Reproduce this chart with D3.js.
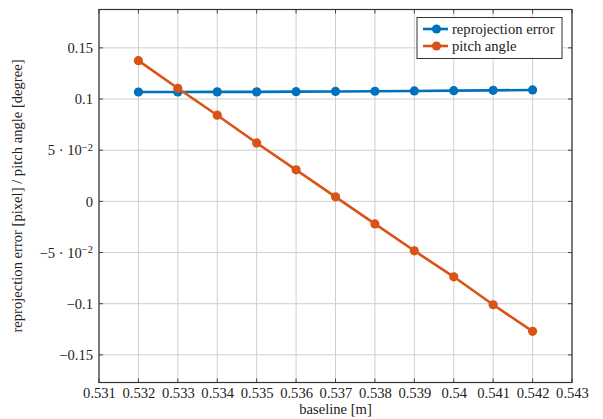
<!DOCTYPE html>
<html>
<head>
<meta charset="utf-8">
<script src="https://cdn.jsdelivr.net/npm/d3@7"></script>
<style>
  body { margin: 0; background: #fff; }
</style>
</head>
<body>
<div id="chart"></div>
<script>
// data
var baselines = [0.532, 0.533, 0.534, 0.535, 0.536, 0.537, 0.538, 0.539, 0.540, 0.541, 0.542];
var reprojError = [0.1069, 0.1069, 0.1070, 0.1070, 0.1072, 0.1074, 0.1076, 0.1079, 0.1082, 0.1085, 0.1089];
var pitchAngle = [0.1375, 0.1105, 0.0842, 0.0571, 0.0308, 0.0044, -0.0220, -0.0483, -0.0737, -0.1010, -0.1270];
var xTicks = [0.531, 0.532, 0.533, 0.534, 0.535, 0.536, 0.537, 0.538, 0.539, 0.540, 0.541, 0.542, 0.543];
var xTickLabels = ["0.531", "0.532", "0.533", "0.534", "0.535", "0.536", "0.537", "0.538", "0.539", "0.54", "0.541", "0.542", "0.543"];
var yTicks = [-0.15, -0.1, -0.05, 0, 0.05, 0.1, 0.15];
var seriesNames = ["reprojection error", "pitch angle"];
var seriesColors = ["#0072BD", "#D95319"];

var FONT = "'Liberation Serif', 'Times New Roman', Times, serif";
var FS = "14.6px";

var W = 603, H = 419;
var M = { left: 99, right: 31, top: 9.5, bottom: 36.5 };

var svg = d3.select("#chart").append("svg").attr("width", W).attr("height", H)
  .attr("font-family", FONT);

var x = d3.scaleLinear().domain([0.531, 0.543]).range([M.left, W - M.right]);
var y = d3.scaleLinear().domain([-0.177, 0.1875]).range([H - M.bottom, M.top]);

// grid
var grid = svg.append("g");
xTicks.forEach(function(t) {
  grid.append("line").attr("x1", x(t)).attr("x2", x(t))
    .attr("y1", M.top).attr("y2", H - M.bottom)
    .attr("stroke", "#cfcfcf").attr("stroke-width", 1);
});
yTicks.forEach(function(t) {
  grid.append("line").attr("x1", M.left).attr("x2", W - M.right)
    .attr("y1", y(t)).attr("y2", y(t))
    .attr("stroke", "#cfcfcf").attr("stroke-width", 1);
});

// axes (labels only, ticks drawn as inner marks)
var xAxis = d3.axisBottom(x).tickValues(xTicks).tickSize(0).tickPadding(5)
  .tickFormat(function(d, i) { return xTickLabels[i]; });
var gX = svg.append("g").attr("transform", "translate(0," + (H - M.bottom) + ")").call(xAxis)
  .attr("font-family", FONT).attr("font-size", FS);
gX.select(".domain").remove();
gX.selectAll("text").attr("fill", "#222");

var yAxis = d3.axisLeft(y).tickValues(yTicks).tickSize(0).tickPadding(6).tickFormat("");
var gY = svg.append("g").attr("transform", "translate(" + M.left + ",0)").call(yAxis)
  .attr("font-family", FONT).attr("font-size", FS);
gY.select(".domain").remove();

gY.selectAll(".tick").each(function(d) {
  var t = d3.select(this).select("text").attr("fill", "#222");
  var neg = d < 0 ? "\u2212" : "";
  var a = Math.abs(d);
  if (Math.abs(a - 0.05) < 1e-9) {
    t.append("tspan").text(neg + "5 \u00B7 10");
    t.append("tspan").attr("dy", "-0.45em").attr("font-size", "10.5px").text("\u22122");
  } else {
    t.text(d === 0 ? "0" : neg + String(a));
  }
});

// inner tick marks
var ticks = svg.append("g").attr("stroke", "#444").attr("stroke-width", 1);
xTicks.forEach(function(t) {
  ticks.append("line").attr("x1", x(t)).attr("x2", x(t)).attr("y1", H - M.bottom).attr("y2", H - M.bottom - 4);
  ticks.append("line").attr("x1", x(t)).attr("x2", x(t)).attr("y1", M.top).attr("y2", M.top + 4);
});
yTicks.forEach(function(t) {
  ticks.append("line").attr("x1", M.left).attr("x2", M.left + 4).attr("y1", y(t)).attr("y2", y(t));
  ticks.append("line").attr("x1", W - M.right).attr("x2", W - M.right - 4).attr("y1", y(t)).attr("y2", y(t));
});

// series
var line = d3.line().x(function(d) { return x(d[0]); }).y(function(d) { return y(d[1]); });
[reprojError, pitchAngle].forEach(function(vals, k) {
  var pts = baselines.map(function(b, i) { return [b, vals[i]]; });
  svg.append("path").attr("d", line(pts)).attr("fill", "none")
    .attr("stroke", seriesColors[k]).attr("stroke-width", 2.6);
  svg.append("g").selectAll("circle").data(pts).enter().append("circle")
    .attr("cx", function(d) { return x(d[0]); })
    .attr("cy", function(d) { return y(d[1]); })
    .attr("r", 4.6).attr("fill", seriesColors[k]);
});

// box
svg.append("rect").attr("x", M.left).attr("y", M.top)
  .attr("width", W - M.left - M.right).attr("height", H - M.top - M.bottom)
  .attr("fill", "none").attr("stroke", "#333").attr("stroke-width", 1.2);

// legend
var lg = svg.append("g").attr("transform", "translate(417,17.5)");
lg.append("rect").attr("width", 145).attr("height", 41)
  .attr("fill", "#fff").attr("stroke", "#333").attr("stroke-width", 1);
seriesNames.forEach(function(name, i) {
  var ly = 11.5 + i * 17;
  lg.append("line").attr("x1", 6).attr("x2", 31).attr("y1", ly).attr("y2", ly)
    .attr("stroke", seriesColors[i]).attr("stroke-width", 2.6);
  lg.append("circle").attr("cx", 19.5).attr("cy", ly).attr("r", 4.6).attr("fill", seriesColors[i]);
  lg.append("text").attr("x", 35).attr("y", ly + 4.5).attr("font-size", FS).attr("fill", "#222").text(name);
});

// axis labels
svg.append("text").attr("x", (M.left + W - M.right) / 2).attr("y", 414)
  .attr("text-anchor", "middle").attr("font-size", FS).attr("fill", "#222").text("baseline [m]");
svg.append("text")
  .attr("transform", "translate(22," + ((M.top + H - M.bottom) / 2) + ") rotate(-90)")
  .attr("text-anchor", "middle").attr("font-size", FS).attr("fill", "#222")
  .text("reprojection error [pixel] / pitch angle [degree]");
</script>
</body>
</html>
